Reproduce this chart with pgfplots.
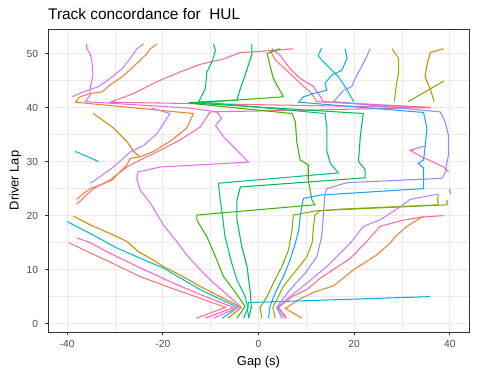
\documentclass[border=0pt]{standalone}
\usepackage{pgfplots}
\pgfplotsset{compat=1.18}
\usepackage{fontspec}
\setmainfont{Liberation Sans}
\definecolor{cred}{HTML}{F8766D}
\definecolor{corange}{HTML}{EA8331}
\definecolor{cgold}{HTML}{D08A00}
\definecolor{colive}{HTML}{A3A500}
\definecolor{cyg}{HTML}{7CAE00}
\definecolor{cgreen}{HTML}{39B600}
\definecolor{cgreenb}{HTML}{00BB4E}
\definecolor{cteal}{HTML}{00BF8D}
\definecolor{ccyan}{HTML}{00BFC4}
\definecolor{clblue}{HTML}{00B2E6}
\definecolor{cblue}{HTML}{1AA3FF}
\definecolor{cpb}{HTML}{8F8CFF}
\definecolor{cpurple}{HTML}{C77CFF}
\definecolor{cmag}{HTML}{E76BF3}
\definecolor{chot}{HTML}{FF62BC}
\definecolor{cpink}{HTML}{FF6C91}
\definecolor{grey92}{HTML}{EBEBEB}
\definecolor{grey20}{HTML}{333333}
\definecolor{grey30}{HTML}{4D4D4D}
\begin{document}
\begin{tikzpicture}[x=1pt,y=1pt]
\path[use as bounding box] (0,0) rectangle (477,376);
\begin{axis}[
  name=ax,
  at={(48pt,44pt)}, anchor=south west,
  scale only axis, width=421pt, height=303pt,
  xmin=-44, xmax=44, ymin=-1.55, ymax=54.55,
  xtick={-40,-20,0,20,40}, minor xtick={-30,-10,10,30},
  ytick={0,10,20,30,40,50}, minor ytick={5,15,25,35,45},
  grid=both,
  major grid style={color=grey92, line width=0.9pt},
  minor grid style={color=grey92, line width=0.5pt},
  axis line style={grey20, line width=0.9pt},
  tick style={grey20, line width=0.9pt},
  tick align=outside, major tick length=3.2pt, minor tick length=0pt,
  xtick pos=bottom, ytick pos=left,
  /pgf/number format/assume math mode=true,
  ticklabel style={font=\fontsize{10.3}{12}\selectfont, text=grey30, inner sep=0pt},
  xticklabel style={anchor=north, yshift=-4.8pt},
  yticklabel style={anchor=east, xshift=-6.5pt},
  every axis plot/.append style={line width=1.05pt, no markers},
]
% red
\addplot[cred] coordinates {(-13,1) (-6.9,3) (-12.2,4.7) (-18,6.5) (-24.7,8.7) (-32,11.8) (-39.7,15)};
\addplot[cred] coordinates {(40.2,24.0) (39.9,25.0)};
\addplot[cred] coordinates {(35.9,40) (12.2,41.1) (10.8,42.9) (8.7,44.5) (5.9,46.9) (3.5,48.8) (2.4,50.6)};
% hot pink
\addplot[chot] coordinates {(-11.1,1) (-5.2,3) (-12.2,5.4) (-17.8,7.5) (-24.7,10.3) (-31.7,13.3) (-35.2,15) (-38,15.9)};
\addplot[chot] coordinates {(39.7,28.1) (38.7,29) (34.1,30.9) (31.7,32.1) (34.8,32.9)};
\addplot[chot] coordinates {(36,40) (13.6,41.1) (11.5,43.9) (8.7,45.4) (6.6,47.2) (4.5,49.7) (2.8,50.9)};
% pink
\addplot[cpink] coordinates {(5.9,1) (4.2,3) (7,5) (10.1,6.3) (12.9,8.4) (19.2,12.1) (22.3,14.9) (25.4,18) (30,19.1) (33.8,19.7) (38.7,20)};
\addplot[cpink] coordinates {(-38,22.1) (-34.5,25) (-31,26.6) (-27.5,29) (-24.7,30.3) (-21.2,31.8) (-16.4,34) (-12.2,36.4) (-10.1,39.2) (36,40) (-31,41) (-26.1,42.6) (-21.2,44.8) (-16.4,46.6) (-12.2,48) (-7.3,49) (-3.8,50.2) (0.4,50.4) (7.3,50.9)};
% orange
\addplot[corange] coordinates {(9.1,1) (5.6,2.8) (8.5,4.5) (11.5,5.8) (15.7,7) (19.9,10) (24.7,12.7) (27.5,14.9) (28.6,16.1) (31,18) (34.5,19.9)};
\addplot[corange] coordinates {(-38,23) (-36.6,24.1) (-35.2,25) (-32.7,25.8) (-30.6,26.6) (-27.5,29.4) (-26.8,30.6) (-24.7,30.9) (-21.9,31.9) (-18.1,34) (-15,36.2) (-13.6,38.9) (-38.3,41) (-37.3,42) (-35.2,42.6) (-32.7,42.9) (-31,44.2) (-28.5,45.7) (-25.4,48.2) (-23.3,50) (-22.6,50.9) (-21.2,51.8)};
% gold
\addplot[cgold] coordinates {(-6.4,1) (-3.6,3) (-12.2,6.9) (-16.4,9) (-19.9,10.6) (-22.6,12.1) (-25.1,13.3) (-27.5,15.2) (-30.3,16.4) (-35.2,18.3) (-38.7,19.9)};
\addplot[cgold] coordinates {(-24.9,30.9) (-26.1,31.9) (-27.5,33.7) (-30.3,36.2) (-34.5,38.9)};
\addplot[cgold] coordinates {(36.7,41.1) (35.9,43.5) (34.8,45.7) (35.2,47.8) (35.9,50.2) (38.7,50.9)};
% olive
\addplot[colive] coordinates {(3.5,1) (3.0,3) (3.8,4.4) (5.2,6.9) (8,10) (10.1,12.4) (11.2,14.9) (11.5,18) (11.8,20.1) (12.9,20.9) (17.1,21.2) (37.6,22) (37.4,23) (37.6,23.8)};
\addplot[colive] coordinates {(28.4,41.1) (28.8,44.2) (29.3,46.6) (29.3,49.1) (27.9,50.9)};
% yellow-green
\addplot[cyg] coordinates {(0.7,1) (0.3,3) (1.8,5) (3.1,7.5) (4.9,10.6) (6.3,13.7) (7,17.3) (7.3,20.1) (12.2,20.9) (39.4,22) (39.4,22.9)};
\addplot[cyg] coordinates {(31.3,41.1) (35,43) (38.7,44.9)};
% green
\addplot[cgreen] coordinates {(-4.5,1) (-2.8,3.2) (-5,6) (-7.3,8.7) (-9,12.4) (-10.8,16.1) (-12.9,19.2) (-12.9,20.1) (11.8,22) (11.2,22.8) (10.4,26.6) (10.4,29.4) (8.7,30.3) (8,33.7) (7.7,37.4) (7,38.9) (-14.3,40.8) (5.2,42) (3.1,45.4) (2.4,47.8) (1.8,50) (4.5,50.9)};
% teal A
\addplot[cteal] coordinates {(-3.1,1) (-2.2,3) (-2.8,5) (-4.5,8.1) (-5.6,11.2) (-7,16.1) (-7.6,20.4) (-8,23) (-8.4,26) (16.7,27.9) (15,29.7) (14.3,31.9) (14.3,36.2) (13.9,38.9) (-12.5,41.1) (-11.1,43.5) (-10.8,46.6) (-9.7,48.5) (-9,50.6) (-9.4,51.8)};
% green B
\addplot[cgreenb] coordinates {(-2.1,1) (-1.5,3) (-1.7,5.7) (-2.4,10.6) (-3.5,14.3) (-4.5,19.2) (-4.5,22.9) (-3.8,25.3) (22.3,27) (22.3,28.5) (20.9,30) (21.3,34.9) (21.9,38.9) (-14.6,40.9) (-4.5,41.4) (-3.8,43.5) (-2.8,46) (-1.4,49.8) (-1.4,51.8)};
% cyan
\addplot[ccyan] coordinates {(-7.6,1) (-4.3,3) (-12.2,6.3) (-19.9,10.3) (-24.7,12.1) (-29.6,14) (-35.2,16.7) (-40,18.9)};
\addplot[ccyan] coordinates {(-33.4,30) (-38.3,31.9)};
\addplot[ccyan] coordinates {(19.9,41.1) (18.1,43.9) (16.7,45.7) (15,47.2) (12.9,49.1) (12.5,49.7) (13.2,51)};
% light blue
\addplot[clblue] coordinates {(-2,1) (-2.3,2.5) (-2.1,3.9) (35.9,5)};
% blue
\addplot[cblue] coordinates {(2.1,1) (2.4,3.2) (3.5,5.7) (5.2,8.7) (6.6,11.8) (7.7,14.9) (8.4,17.3) (8.7,19.8) (9.1,22) (9.4,23.2) (12.9,23.8) (34.5,25) (34.5,25.7) (34.5,28.8) (33.4,29.7) (34.5,30.3) (34.8,32.5) (35.2,36.2) (34.5,39.1) (8.4,41) (9.4,42) (11.5,42.6) (14.3,43.2) (13.9,44.5) (15.3,46) (17.4,46.9) (18.5,49.1) (18.1,50.9)};
% purple-blue
\addplot[cpb] coordinates {(4.9,1) (3.8,3) (6.6,6.3) (9.8,9.4) (12.2,12.4) (13.2,16.1) (13.6,20.4) (13.9,24.1) (14.3,25) (18.5,26.1) (38.3,26.9) (39,27.9) (39.7,31.2) (39.7,34.9) (39,37.4) (38,39.2) (15.7,41.1) (17.8,43.2) (19.5,43.9) (20.2,45.4) (21.3,47.2) (22.6,49.4) (23.3,50.9)};
% purple
\addplot[cpurple] coordinates {(5.5,1) (4.0,3) (6.6,5) (10.1,7.5) (14.3,10.6) (19.2,14.9) (21.9,18) (25.4,19.2) (29.6,21.6) (31.7,23) (37.6,24)};
\addplot[cpurple] coordinates {(-35.2,26) (-34.1,26.6) (-30.3,29) (-26.8,31.8) (-24,33) (-21.2,35.2) (-18.5,38.9) (-22.3,39.9)};
\addplot[cpurple] coordinates {(-39,42) (-36.6,42.9) (-33.4,43.9) (-31,45.4) (-28.5,47.2) (-26.8,49.1) (-25.4,50.9) (-24,51.8)};
% magenta
\addplot[cmag] coordinates {(-9.4,1) (-3.8,3.2) (-10.1,8.1) (-12.2,10) (-15,12.7) (-17.1,15.2) (-19.9,18.3) (-22.6,22.3) (-24.7,24.7) (-25.4,26.6) (-25.4,27.5) (-25.1,28.1) (-20.5,29) (-2.1,29.9) (-4.5,32.1) (-7.3,34.6) (-9,36.7) (-7.7,38) (-8.7,39.2) (-14.3,39.9) (-36.2,41.1) (-35.2,42.3) (-35.2,43.5) (-34.6,46) (-34.8,48.5) (-35.2,50) (-35.9,50.9) (-35.9,51.8)};
\end{axis}
\node[anchor=base west, font=\fontsize{15.4}{18}\selectfont, inner sep=0pt, yshift=9.7pt] at (ax.north west) {Track concordance for\ \ HUL};
\node[anchor=base, font=\fontsize{12.9}{15}\selectfont, inner sep=0pt] at (258.5,11) {Gap (s)};
\node[rotate=90, anchor=base, font=\fontsize{12.9}{15}\selectfont, inner sep=0pt] at (18.5,195.5) {Driver Lap};
\end{tikzpicture}
\end{document}
